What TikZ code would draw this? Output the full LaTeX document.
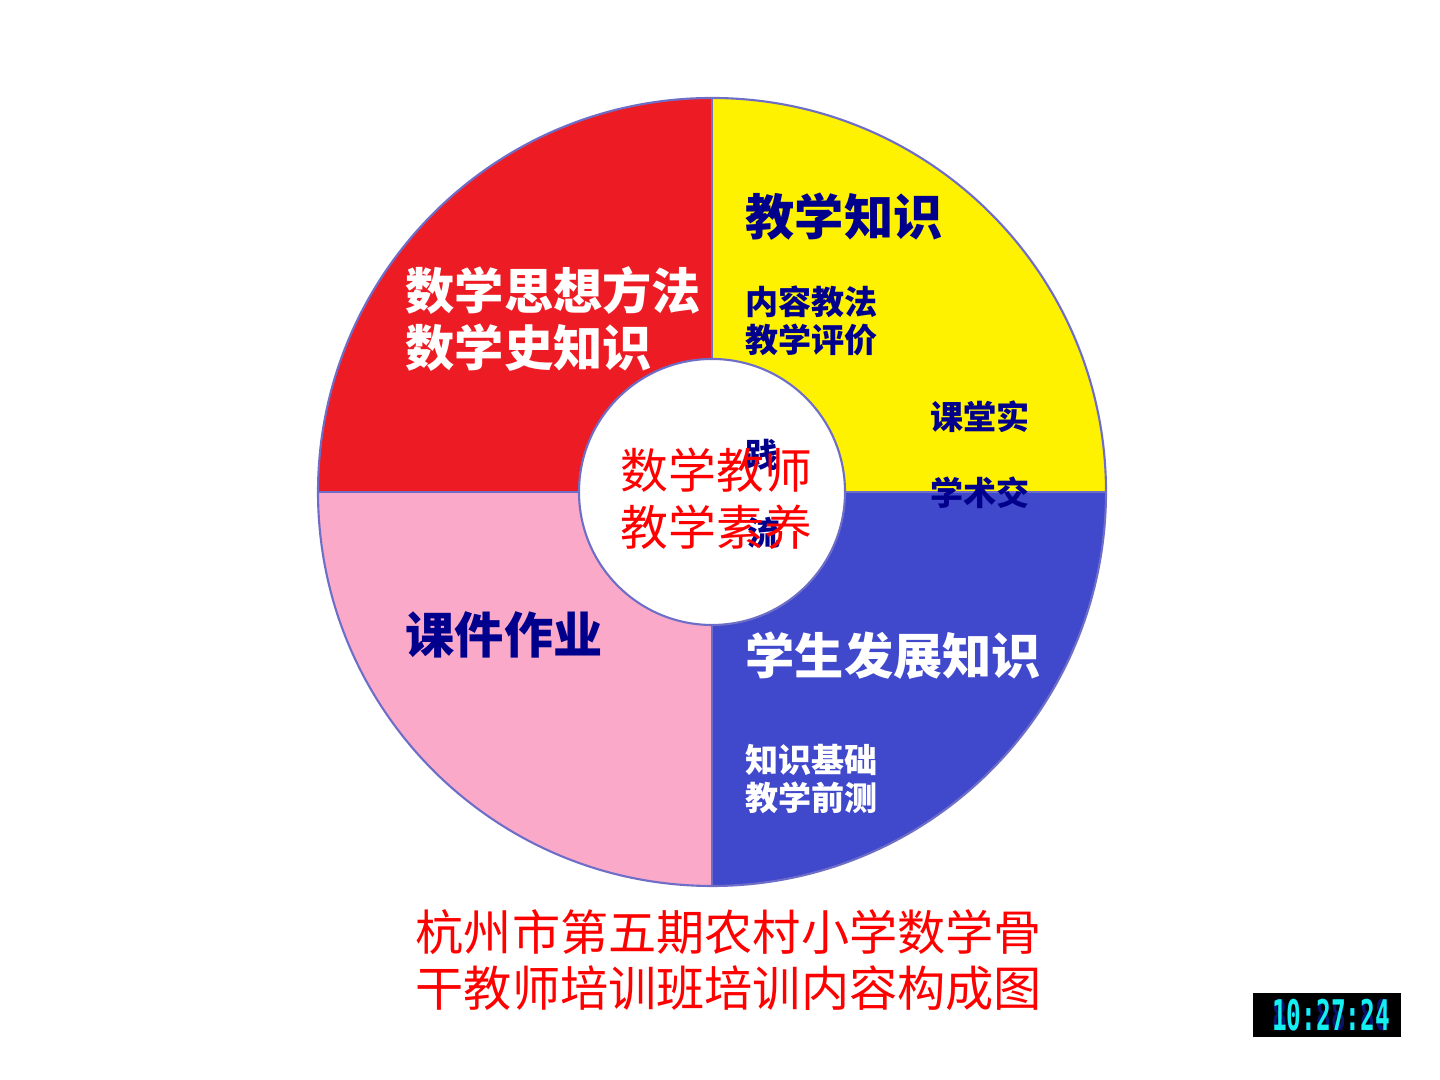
\documentclass[tikz,border=0pt]{standalone}
\usepackage{fontspec}
\usetikzlibrary{calc}
\newfontfamily\cjk{Noto Sans CJK SC}
\newfontfamily\clockfont{DejaVu Sans Mono}
\definecolor{ringRed}{RGB}{237,28,36}
\definecolor{ringYellow}{RGB}{255,242,0}
\definecolor{ringBlue}{RGB}{64,72,204}
\definecolor{ringPink}{RGB}{250,170,200}
\definecolor{ringEdge}{RGB}{110,110,200}
\definecolor{labelNavy}{RGB}{0,0,140}
\definecolor{clockCyan}{RGB}{20,240,240}
\definecolor{clockGhost}{RGB}{10,20,110}
\newcommand{\bigsize}{\fontsize{14}{16.2}\selectfont}
\newcommand{\smallsize}{\fontsize{9.4}{10.8}\selectfont}
\tikzset{
  biglabel/.style={anchor=west,inner sep=0pt,align=left,font=\cjk\bfseries\bigsize},
  smalllabel/.style={anchor=west,inner sep=0pt,align=left,font=\cjk\bfseries\smallsize,text=labelNavy},
  redtitle/.style={anchor=west,inner sep=0pt,align=left,font=\cjk\fontsize{13.6}{16.2}\selectfont,text=red},
  clocktext/.style={inner sep=0pt,xscale=0.58,font=\clockfont\bfseries\fontsize{12}{12}\selectfont}
}

\begin{document}
\begin{tikzpicture}[x=0.01cm,y=0.01cm]
\useasboundingbox (0,0) rectangle (1440,1080);
\coordinate (ctr) at (712,588);
% ring quadrants
\fill[ringYellow] (ctr) -- ++(0:394) arc[start angle=0,end angle=90,radius=394] -- cycle;
\fill[ringRed] (ctr) -- ++(90:394) arc[start angle=90,end angle=180,radius=394] -- cycle;
\fill[ringPink] (ctr) -- ++(180:394) arc[start angle=180,end angle=270,radius=394] -- cycle;
\fill[ringBlue] (ctr) -- ++(270:394) arc[start angle=270,end angle=360,radius=394] -- cycle;
\draw[ringEdge,line width=0.6pt] (ctr) circle[radius=394];
\draw[ringEdge,line width=0.5pt] ($(ctr)+(0,394)$) -- ($(ctr)+(0,-394)$);
\draw[ringEdge,line width=0.5pt] ($(ctr)+(-394,0)$) -- ($(ctr)+(394,0)$);
\filldraw[fill=white,draw=ringEdge,line width=0.6pt] (ctr) circle[radius=133];

% quadrant labels
\node[biglabel,text=white] (mathIdea) at (405,761) {数学思想方法\\数学史知识};
\node[biglabel,text=labelNavy] (teachKnow) at (745,863) {教学知识};
\node[smalllabel] (teachSub) at (745,759) {内容教法\\教学评价};
\node[smalllabel] (classPrac) at (930,663) {课堂实};
\node[smalllabel] (acadExch) at (930,587) {学术交};
\node[smalllabel] (pracEnd) at (745,625) {践};
\node[smalllabel] (exchEnd) at (747,547) {流};
\node[redtitle] (coreTitle) at (620,581) {数学教师\\教学素养};
\node[biglabel,text=labelNavy] (courseWork) at (405,445) {课件作业};
\node[biglabel,text=white] (studentKnow) at (745,424) {学生发展知识};
\node[smalllabel,text=white] (studentSub) at (745,301) {知识基础\\教学前测};

% caption
\node[redtitle,font=\cjk\fontsize{13.7}{16}\selectfont] (caption) at (415,120) {杭州市第五期农村小学数学骨\\干教师培训班培训内容构成图};

% clock
\fill[black] (1253,43) rectangle (1401,87);
\node[clocktext,text=clockGhost] (clockBack) at (1331,65) {88:88:88};
\node[clocktext,text=clockCyan] (clockTime) at (1331,65) {10:27:24};
\end{tikzpicture}
\end{document}
